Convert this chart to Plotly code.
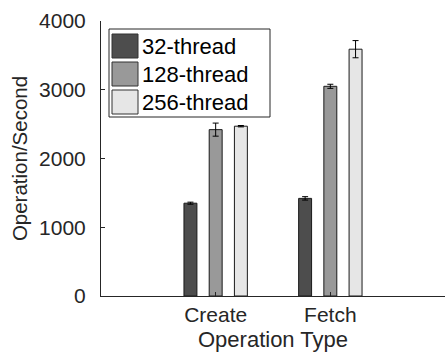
import plotly.graph_objects as go

# Throughput per operation type for three thread counts
categories = ["Create", "Fetch"]
series_names = ["32-thread", "128-thread", "256-thread"]
values = {
    "32-thread": [1350, 1420],
    "128-thread": [2420, 3050],
    "256-thread": [2470, 3590],
}
errors = {
    "32-thread": [15, 25],
    "128-thread": [95, 30],
    "256-thread": [10, 125],
}
colors = ["#4d4d4d", "#999999", "#e6e6e6"]
y_ticks = [0, 1000, 2000, 3000, 4000]

W, H = 445, 356
ML, MR, MT, MB = 101, 0, 21, 60
FONT = "Liberation Sans, Arial, sans-serif"
TXT = "#262626"

x_pos = [i + 1 for i in range(len(categories))]
bar_w = 0.113
spacing = 0.22

fig = go.Figure()
for i, name in enumerate(series_names):
    fig.add_trace(go.Bar(
        x=x_pos,
        y=values[name],
        name=name,
        width=bar_w,
        offset=-bar_w / 2 + (i - 1) * spacing,
        marker=dict(color=colors[i], line=dict(color="#1a1a1a", width=1)),
        error_y=dict(type="data", array=errors[name], color="#000000",
                     thickness=1, width=3),
        showlegend=False,
    ))

# Boxed legend with large square swatches
pw = W - ML - MR
ph = H - MT - MB
def px(x):
    return (x - ML) / pw
def py(y):
    return 1 - (y - MT) / ph

shapes = [dict(type="rect", xref="paper", yref="paper",
               x0=px(109), x1=px(270), y0=py(117), y1=py(29),
               line=dict(color=TXT, width=1), fillcolor="white", layer="above")]
annotations = []
row_tops = [34, 62, 90]
for i, name in enumerate(series_names):
    top = row_tops[i]
    shapes.append(dict(type="rect", xref="paper", yref="paper",
                       x0=px(112), x1=px(138), y0=py(top + 24), y1=py(top),
                       line=dict(color="#333333", width=1), fillcolor=colors[i],
                       layer="above"))
    annotations.append(dict(xref="paper", yref="paper", x=px(140), y=py(top + 12),
                            text=name, showarrow=False, xanchor="left",
                            yanchor="middle", font=dict(family=FONT, size=22, color="#000000")))

fig.update_layout(
    width=W, height=H,
    margin=dict(l=ML, r=MR, t=MT, b=MB),
    paper_bgcolor="white", plot_bgcolor="white",
    barmode="overlay",
    font=dict(family=FONT, size=21, color=TXT),
    shapes=shapes,
    annotations=annotations,
    xaxis=dict(
        range=[0, 3],
        tickvals=x_pos, ticktext=categories,
        ticks="inside", ticklen=4, tickcolor=TXT,
        showline=True, linecolor=TXT, linewidth=1,
        showgrid=False, zeroline=False,
        title=dict(text="Operation Type", standoff=6,
                   font=dict(family=FONT, size=22, color=TXT)),
    ),
    yaxis=dict(
        range=[0, 4000],
        tickvals=y_ticks,
        ticks="inside", ticklen=4, tickcolor=TXT,
        ticklabelstandoff=10,
        showline=True, linecolor=TXT, linewidth=1,
        showgrid=False, zeroline=False,
        title=dict(text="Operation/Second", standoff=5,
                   font=dict(family=FONT, size=20.5, color=TXT)),
    ),
)

fig.write_html("out.html")
